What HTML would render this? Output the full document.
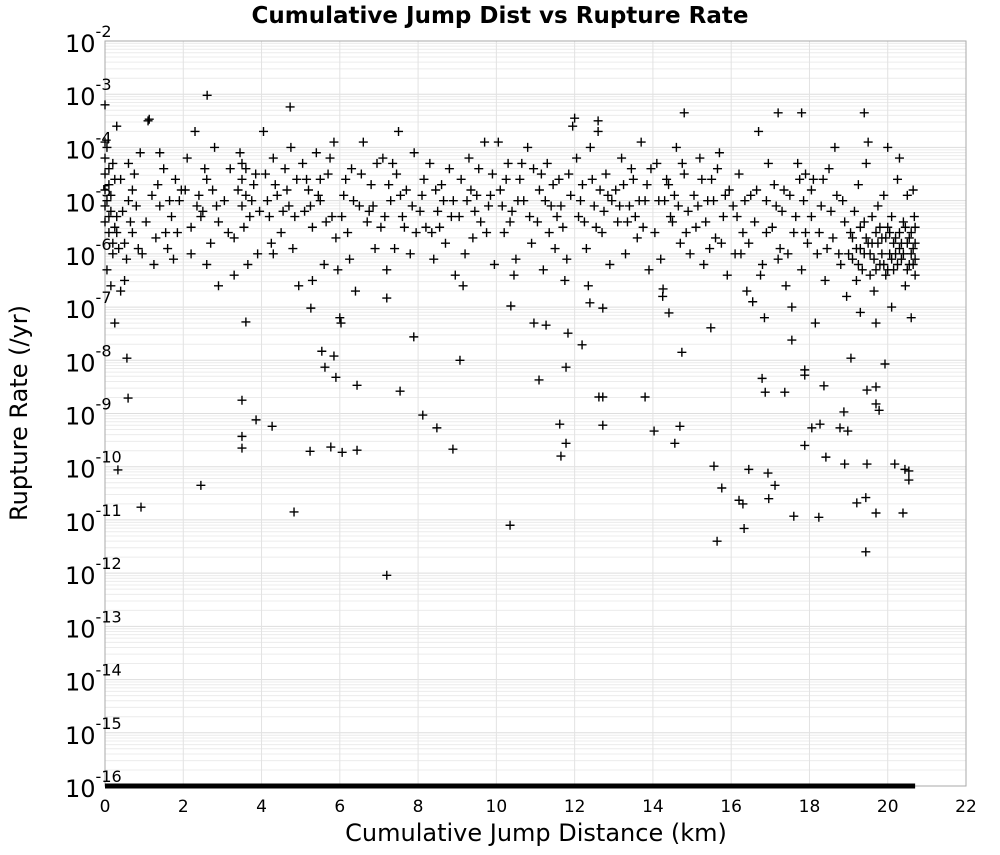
<!DOCTYPE html>
<html><head><meta charset="utf-8"><style>
body{margin:0;background:#fff;font-family:"Liberation Sans","DejaVu Sans",sans-serif}
svg text{font-family:"DejaVu Sans","Liberation Sans",sans-serif}
</style></head><body>
<svg id="chart" width="1000" height="850" xmlns="http://www.w3.org/2000/svg">
<rect width="1000" height="850" fill="#fff"/>
<text x="500" y="23" text-anchor="middle" font-size="23" font-weight="bold">Cumulative Jump Dist vs Rupture Rate</text>
<g id="grid"></g>
<rect x="105" y="41" width="861" height="745" fill="none" stroke="#aaa" stroke-width="1"/>
<g id="yticks"></g>
<g id="xticks"></g>
<g id="pts"></g>
<text x="536" y="841" text-anchor="middle" font-size="24">Cumulative Jump Distance (km)</text>
<text x="0" y="0" transform="translate(27,413) rotate(-90)" text-anchor="middle" font-size="24">Rupture Rate (/yr)</text>
</svg>
<script>
const xTickLabels=[0,2,4,6,8,10,12,14,16,18,20,22];
const yTickExps=[-2,-3,-4,-5,-6,-7,-8,-9,-10,-11,-12,-13,-14,-15,-16];
const floorKm=[0,1,2,3,4,5,6,7,8,9,10,11,12,13,14,15,16,17,18,19,20,20.7];
const floorExp=-16;
const km=[0,0,0,0,0,0,0,0.05,0.05,0.1,0.1,0.1,0.15,0.15,0.2,0.2,0.25,0.25,0.3,0.3,0.3,
0.4,0.45,0.5,0.55,0.6,0.65,0.7,0.8,0.85,0.9,0.95,0.5,0.4,0.35,0.6,
1.1,1.2,1.3,1.4,1.5,1.6,1.7,1.8,1.9,1.4,1.55,1.75,1.95,1.25,
2.1,2.2,2.3,2.4,2.5,2.6,2.7,2.8,2.9,2.6,2.75,2.9,2.2,2.45,
3.05,3.2,3.3,3.45,3.5,3.5,3.5,3.55,3.6,3.7,3.8,3.9,3.95,3.3,3.65,
4.05,4.1,4.2,4.3,4.3,4.4,4.5,4.6,4.7,4.8,4.9,4.95,4.25,4.75,
5.05,5.1,5.2,5.3,5.4,5.5,5.6,5.7,5.8,5.85,5.9,5.95,5.3,5.5,
6.1,6.2,6.3,6.4,6.5,6.6,6.7,6.8,6.9,6.95,6.25,6.75,
7.05,7.1,7.2,7.3,7.45,7.5,7.6,7.7,7.8,7.9,7.95,7.4,
8.1,8.2,8.3,8.4,8.5,8.6,8.7,8.8,8.9,8.95,8.35,
9.05,9.1,9.2,9.3,9.4,9.5,9.6,9.7,9.8,9.9,9.95,9.15,
10.05,10.1,10.2,10.3,10.4,10.5,10.6,10.7,10.8,10.9,10.95,10.45,
11.05,11.1,11.2,11.3,11.4,11.5,11.6,11.7,11.8,11.9,11.95,11.75,
12.05,12.1,12.2,12.3,12.4,12.5,12.6,12.7,12.8,12.9,12.95,12.35,
13.05,13.1,13.2,13.3,13.4,13.5,13.6,13.7,13.8,13.9,13.95,13.55,
14.05,14.1,14.2,14.3,14.4,14.5,14.6,14.7,14.8,14.9,14.95,14.25,
15.05,15.1,15.2,15.3,15.4,15.5,15.6,15.7,15.8,15.9,15.95,15.45,
16.05,16.1,16.2,16.3,16.4,16.5,16.6,16.7,16.8,16.9,16.95,16.55,16.85,
17.05,17.1,17.2,17.3,17.4,17.5,17.6,17.7,17.8,17.85,17.9,17.95,17.55,17.25,
18.05,18.1,18.2,18.3,18.4,18.5,18.6,18.7,18.8,18.9,18.95,18.45,18.15,18.65,
19.05,19.1,19.15,19.2,19.25,19.3,19.35,19.4,19.45,19.5,19.55,19.6,19.65,19.7,19.75,19.8,19.85,19.9,19.95,19.5,19.3,19.7,
20.0,20.05,20.1,20.15,20.2,20.25,20.3,20.35,20.4,20.45,20.5,20.55,20.6,20.65,20.7,20.7,20.6,20.1,20.3,20.5,20.65,20.0,
2.61,4.73,1.13,12.0,12.6,14.8,17.2,17.8,19.4,3.6,0.56,0.59,0.33,0.92,2.45,4.83,3.5,3.5,3.5,3.86,4.27,
5.24,5.77,5.54,5.62,5.85,5.9,6.06,6.0,6.03,6.44,6.44,5.26,7.2,7.2,7.54,7.89,8.12,8.48,8.89,9.07,10.37,10.35,
10.96,11.27,11.09,11.78,11.62,11.65,11.78,11.83,12.19,12.39,12.72,12.62,12.72,12.72,13.8,14.03,14.26,14.41,14.56,14.69,14.74,
15.48,15.56,15.64,15.76,16.2,16.33,16.45,16.3,16.79,16.87,16.94,16.96,17.12,17.37,17.55,17.6,17.88,17.88,17.88,18.06,18.24,18.27,18.37,18.42,
18.78,18.88,18.9,18.98,19.06,19.21,19.44,19.44,19.47,19.47,19.7,19.7,19.78,19.7,19.93,20.18,20.39,20.44,20.54,20.54];
const logRate=[-3.2,-3.9,-4.2,-4.5,-4.8,-5.1,-5.4,-5.0,-6.3,-4.4,-4.7,-5.6,-5.2,-6.6,-4.3,-5.8,-4.6,-7.3,-5.3,-5.6,-3.6,
-4.6,-5.2,-5.8,-6.1,-4.3,-5.4,-4.8,-5.1,-5.9,-4.1,-6.0,-6.5,-6.7,-5.9,-5.0,
-3.5,-4.9,-5.7,-5.1,-4.4,-5.9,-5.3,-4.6,-5.0,-4.1,-5.6,-6.1,-4.8,-6.2,
-4.2,-5.5,-3.7,-4.9,-5.2,-4.6,-5.8,-4.0,-5.4,-6.2,-4.8,-6.6,-6.0,-5.3,
-5.0,-4.4,-5.7,-4.1,-4.3,-4.6,-5.1,-5.5,-4.9,-5.3,-4.7,-6.0,-5.2,-6.4,-6.2,
-3.7,-4.5,-5.3,-4.2,-6.0,-4.9,-5.6,-4.4,-5.1,-5.9,-4.6,-6.6,-5.8,-4.0,
-4.3,-5.2,-4.8,-5.5,-4.1,-5.0,-6.2,-4.5,-5.3,-3.9,-5.7,-6.3,-6.5,-4.6,
-4.9,-5.6,-4.4,-6.7,-5.1,-3.9,-5.4,-4.7,-5.9,-4.3,-6.1,-5.2,
-5.5,-4.2,-6.3,-5.0,-4.5,-3.7,-5.3,-4.8,-6.0,-4.1,-5.6,-5.9,
-4.9,-5.5,-4.3,-6.1,-5.2,-4.7,-5.8,-4.4,-5.0,-6.4,-5.6,
-5.3,-4.6,-6.0,-4.2,-5.7,-4.9,-5.4,-3.9,-5.1,-4.5,-6.2,-6.6,
-3.9,-4.8,-5.6,-4.3,-5.2,-6.1,-4.6,-5.0,-4.0,-5.8,-4.4,-6.4,
-5.4,-4.8,-6.3,-4.3,-5.1,-5.9,-4.6,-5.5,-6.1,-4.9,-3.6,-6.5,
-4.2,-5.3,-4.7,-5.9,-4.0,-5.1,-3.7,-5.6,-4.5,-6.2,-5.0,-6.6,
-4.8,-5.4,-4.2,-6.0,-5.1,-4.6,-5.7,-3.9,-5.0,-6.3,-4.4,-5.3,
-5.6,-4.3,-6.1,-5.0,-4.7,-5.4,-4.0,-5.8,-4.5,-5.2,-6.0,-6.8,
-4.9,-5.5,-4.2,-6.2,-5.0,-4.6,-5.7,-4.1,-5.3,-6.4,-4.8,-5.9,
-5.1,-6.0,-4.5,-5.6,-6.7,-4.9,-5.4,-3.7,-6.2,-5.0,-4.3,-6.9,-7.2,
-5.5,-4.7,-6.1,-5.2,-6.6,-4.9,-5.6,-4.3,-6.3,-5.0,-4.5,-5.8,-7.0,-5.9,
-5.3,-4.6,-6.0,-5.1,-6.5,-4.4,-5.7,-4.9,-6.2,-5.4,-6.8,-5.9,-7.3,-4.0,
-5.6,-6.1,-5.2,-6.5,-4.7,-5.9,-6.3,-5.4,-4.3,-5.8,-6.0,-5.3,-6.7,-5.6,-5.1,-6.2,-5.7,-4.9,-6.4,-3.9,-7.1,-7.3,
-5.5,-6.0,-5.3,-6.3,-5.7,-4.6,-5.9,-6.1,-5.4,-6.6,-5.8,-6.2,-5.6,-4.8,-6.4,-5.5,-7.2,-7.0,-4.2,-4.9,-5.9,-4.0,
-3.02,-3.24,-3.47,-3.45,-3.5,-3.35,-3.35,-3.35,-3.35,-7.28,-7.96,-8.71,-10.06,-10.76,-10.35,-10.85,-8.75,-9.43,-9.65,-9.12,-9.24,
-9.71,-9.63,-7.83,-8.13,-7.92,-8.32,-9.73,-7.2,-7.3,-8.47,-9.69,-7.02,-12.04,-6.83,-8.58,-7.56,-9.03,-9.27,-9.67,-8.0,-6.98,-11.1,
-7.3,-7.34,-8.37,-8.13,-9.2,-9.8,-9.56,-7.49,-7.71,-6.92,-7.02,-8.69,-9.22,-8.69,-8.69,-9.33,-6.66,-7.11,-9.56,-9.24,-7.85,
-7.39,-9.99,-11.4,-10.4,-10.63,-11.16,-10.05,-10.7,-8.34,-8.6,-10.12,-10.6,-10.35,-8.6,-7.62,-10.93,-8.18,-8.28,-9.6,-9.27,-10.95,-9.2,-8.48,-9.82,
-9.27,-8.97,-9.95,-9.33,-7.96,-10.68,-10.58,-11.6,-9.95,-8.56,-8.5,-8.82,-8.94,-10.87,-8.07,-9.95,-10.87,-10.05,-10.25,-10.08];
const extraKm=[0.05,0.1,0.15,0.2,0.25,0.7,0.75,1.05,1.35,1.65,1.85,2.05,2.35,2.55,2.85,3.15,3.4,3.6,3.75,3.85,4.15,4.35,4.55,4.65,4.85,5.15,5.25,5.45,5.65,5.75,6.05,6.15,6.35,6.55,6.85,7.15,7.25,7.35,7.55,7.65,7.85,8.05,8.15,8.45,8.55,8.65,8.85,9.25,9.35,9.45,9.55,9.75,9.85,10.15,10.25,10.35,10.55,10.65,10.85,11.15,11.25,11.35,11.45,11.55,11.65,11.85,12.15,12.25,12.45,12.55,12.65,12.75,12.85,13.15,13.25,13.35,13.45,13.65,13.75,13.85,14.15,14.35,14.45,14.55,14.65,14.75,14.85,15.15,15.25,15.35,15.55,15.65,15.75,15.85,16.15,16.25,16.35,16.45,16.65,16.75,16.9,17.15,17.35,17.45,17.65,17.75,17.9,18.05,18.25,18.35,18.55,18.75,18.85,19.0,19.1,19.2,19.25,19.3,19.4,19.45,19.55,19.6,19.65,19.7,19.75,19.8,19.85,19.9,19.95,20.0,20.05,20.1,20.15,20.2,20.25,20.3,20.35,20.4,20.45,20.5,20.55,20.6,20.65,20.7,20.7,20.68];
const extraRate=[-4.0,-5.3,-4.9,-6.0,-5.5,-5.6,-4.5,-5.4,-4.7,-5.0,-5.6,-4.8,-5.1,-4.4,-5.1,-5.6,-4.8,-4.4,-5.0,-4.5,-5.0,-4.7,-5.2,-4.8,-5.3,-4.6,-5.1,-4.9,-5.4,-4.2,-5.3,-4.6,-5.0,-4.5,-5.1,-5.3,-4.7,-4.3,-4.9,-5.5,-5.1,-5.2,-4.6,-4.8,-5.5,-5.0,-5.3,-5.0,-4.8,-5.2,-4.4,-5.6,-4.9,-5.1,-4.6,-5.4,-5.0,-4.3,-5.3,-4.5,-5.0,-5.6,-4.7,-5.3,-5.1,-4.5,-5.0,-5.4,-4.6,-5.5,-4.8,-5.2,-4.9,-5.1,-4.7,-5.4,-4.4,-5.0,-5.5,-4.7,-5.0,-4.6,-5.3,-4.9,-5.1,-4.3,-5.6,-5.1,-4.6,-5.4,-5.0,-4.4,-5.8,-4.9,-5.3,-6.0,-5.0,-5.8,-4.8,-6.4,-5.6,-5.1,-4.8,-6.0,-5.3,-4.6,-5.6,-4.8,-5.6,-4.6,-5.2,-6.0,-5.0,-6.0,-5.7,-5.9,-6.2,-5.5,-6.0,-5.7,-6.4,-5.8,-6.1,-6.3,-5.8,-5.5,-6.0,-6.2,-5.7,-6.3,-5.6,-6.1,-5.8,-6.0,-6.2,-5.6,-5.8,-6.0,-5.5,-6.3,-5.7,-6.0,-6.2,-5.8,-6.1,-5.3];

const NS='http://www.w3.org/2000/svg';
const X0=105,X1=966,Y0=41,Y1=786,KMAX=22,EMAX=-2,EMIN=-16;
function xs(k){return X0+k*(X1-X0)/KMAX;}
function ys(e){return Y0+(EMAX-e)*(Y1-Y0)/(EMAX-EMIN);}
function mk(tag,attrs,parent){const el=document.createElementNS(NS,tag);for(const a in attrs)el.setAttribute(a,attrs[a]);parent.appendChild(el);return el;}
const grid=document.getElementById('grid');
for(let e=EMIN;e<EMAX;e++){for(let m=1;m<10;m++){const y=ys(e+Math.log10(m));
const l=mk('line',{x1:X0,x2:X1,y1:y,y2:y,stroke:m===1?'#ddd':'#ececec','stroke-width':1},grid);

}}
xTickLabels.forEach(k=>{const x=xs(k);
const l=mk('line',{x1:x,x2:x,y1:Y0,y2:Y1,stroke:'#e2e2e2','stroke-width':1},grid);


const t=mk('text',{x:x,y:812,'text-anchor':'middle','font-size':17},document.getElementById('xticks'));
t.textContent=k;

});
yTickExps.forEach(e=>{const y=ys(e);
const t=mk('text',{x:65,y:y+11,'font-size':24},document.getElementById('yticks'));


t.appendChild(document.createTextNode('10'));
const s=mk('tspan',{dy:-15,'font-size':16},t);s.textContent=e;});
const pts=document.getElementById('pts');
const fl=mk('polyline',{points:floorKm.map(k=>xs(k)+','+ys(floorExp)).join(' '),stroke:'#000','stroke-width':5,fill:'none'},pts);


function plus(k,e){const x=xs(k),y=ys(e);
const p=mk('path',{d:`M${x-4.5},${y}H${x+4.5}M${x},${y-4.5}V${y+4.5}`,stroke:'#000','stroke-width':1.4},pts);

}
for(let i=0;i<km.length;i++)plus(km[i],logRate[i]);
for(let i=0;i<extraKm.length;i++)plus(extraKm[i],extraRate[i]);
</script>
</body></html>
